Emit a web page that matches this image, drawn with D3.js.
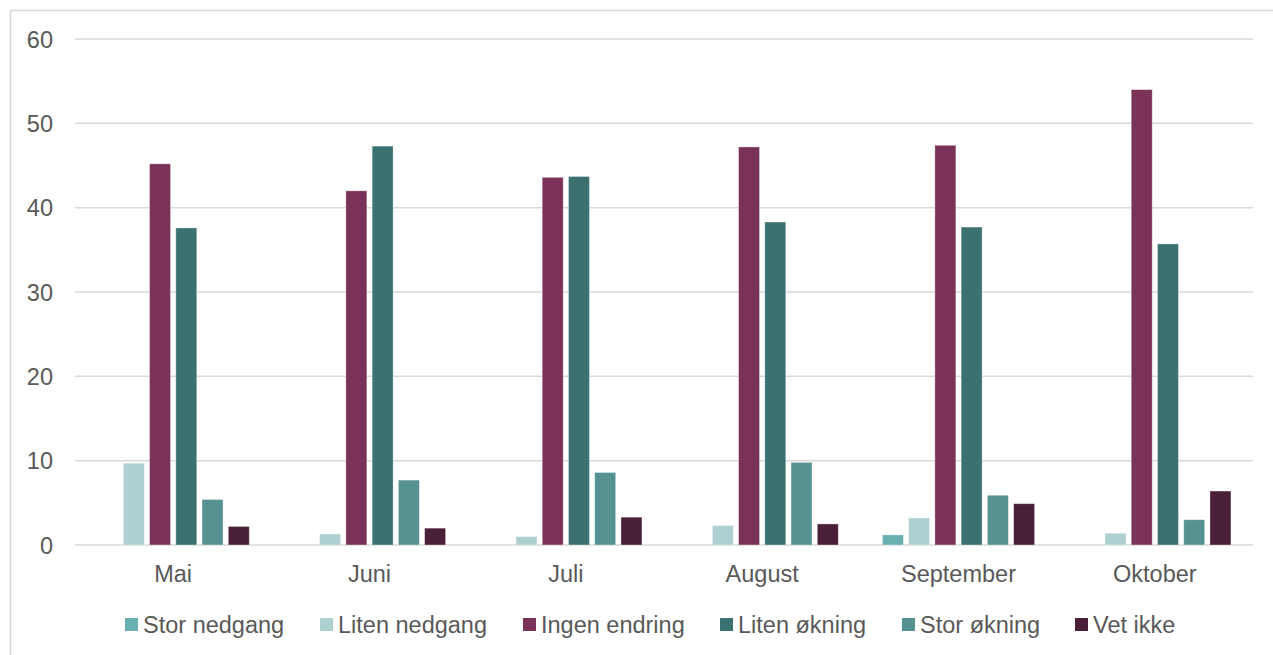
<!DOCTYPE html>
<html>
<head>
<meta charset="utf-8">
<script src="https://cdn.jsdelivr.net/npm/d3@7"></script>
<style>
  html, body { margin: 0; padding: 0; background: #fff; }
  svg { display: block; font-family: "Liberation Sans", Arial, sans-serif; }
</style>
</head>
<body>
<svg id="chart" width="1273" height="655"></svg>
<script>
const categories = ["Mai", "Juni", "Juli", "August", "September", "Oktober"];
const seriesNames = ["Stor nedgang", "Liten nedgang", "Ingen endring", "Liten økning", "Stor økning", "Vet ikke"];
const storNedgang   = [0,   0,    0,    0,    1.2,  0];
const litenNedgang  = [9.7, 1.3,  1.0,  2.3,  3.2,  1.4];
const ingenEndring  = [45.2, 42.0, 43.6, 47.2, 47.4, 54.0];
const litenOkning   = [37.6, 47.3, 43.7, 38.3, 37.7, 35.7];
const storOkning    = [5.4, 7.7,  8.6,  9.8,  5.9,  3.0];
const vetIkke       = [2.2, 2.0,  3.3,  2.5,  4.9,  6.4];
const yTicks = [0, 10, 20, 30, 40, 50, 60];
const colors = ["#6AB0B0", "#AFD0D1", "#7A3259", "#3B7271", "#569291", "#4A1F38"];

const seriesValues = [storNedgang, litenNedgang, ingenEndring, litenOkning, storOkning, vetIkke];

const svg = d3.select("#chart");
const textColor = "#595959";
const fontSize = 23.5;

// outer border
svg.append("rect")
  .attr("x", 10.5).attr("y", 10.5)
  .attr("width", 1280).attr("height", 660)
  .attr("fill", "none").attr("stroke", "#D9D9D9").attr("stroke-width", 1.5);

const plot = { left: 75, right: 1253, top: 39, bottom: 545 };

const x0 = d3.scaleBand().domain(categories).range([plot.left, plot.right]).padding(0);
const x1 = d3.scaleBand().domain(seriesNames).range([0, x0.bandwidth()])
  .paddingInner(0.2).paddingOuter(0.84);
const y = d3.scaleLinear().domain([0, 60]).range([plot.bottom, plot.top]);

// gridlines
svg.append("g").selectAll("line").data(yTicks).join("line")
  .attr("x1", plot.left).attr("x2", plot.right)
  .attr("y1", d => y(d)).attr("y2", d => y(d))
  .attr("stroke", "#D9D9D9").attr("stroke-width", 1.5);

// y axis labels
const yAxis = d3.axisLeft(y).tickValues(yTicks).tickSize(0).tickPadding(0);
const yg = svg.append("g").attr("transform", "translate(53,0)").call(yAxis);
yg.select(".domain").remove();
yg.selectAll("text")
  .attr("fill", textColor).style("font-size", fontSize + "px")
  .style("font-family", "'Liberation Sans', Arial, sans-serif")
  .attr("x", 0).attr("dy", "0.35em").attr("text-anchor", "end");

// bars
const groups = svg.append("g").selectAll("g").data(categories).join("g")
  .attr("transform", d => `translate(${x0(d)},0)`);

groups.selectAll("rect")
  .data((c, ci) => seriesNames.map((s, si) => ({ s, si, v: seriesValues[si][ci] })))
  .join("rect")
  .filter(d => d.v > 0)
  .attr("x", d => x1(d.s))
  .attr("width", x1.bandwidth())
  .attr("y", d => y(d.v))
  .attr("height", d => y(0) - y(d.v))
  .attr("fill", d => colors[d.si])
  .attr("stroke", "#ffffff").attr("stroke-opacity", 0.45).attr("stroke-width", 0.8);

// x axis labels
const xAxis = d3.axisBottom(x0).tickSize(0).tickPadding(0);
const xg = svg.append("g").attr("transform", `translate(0,${plot.bottom})`).call(xAxis);
xg.select(".domain").remove();
xg.selectAll("text")
  .attr("fill", textColor).style("font-size", fontSize + "px")
  .style("font-family", "'Liberation Sans', Arial, sans-serif")
  .attr("y", 37).attr("dy", 0);

// legend
const legendSquareX = [125, 320, 523, 720, 902, 1075];
const legend = svg.append("g").selectAll("g").data(seriesNames).join("g")
  .attr("transform", (d, i) => `translate(${legendSquareX[i]},0)`);
legend.append("rect")
  .attr("x", 0).attr("y", 618).attr("width", 13).attr("height", 13)
  .attr("fill", (d, i) => colors[i]);
legend.append("text")
  .attr("x", 18).attr("y", 633)
  .attr("fill", textColor).style("font-size", fontSize + "px")
  .text(d => d);
</script>
</body>
</html>
